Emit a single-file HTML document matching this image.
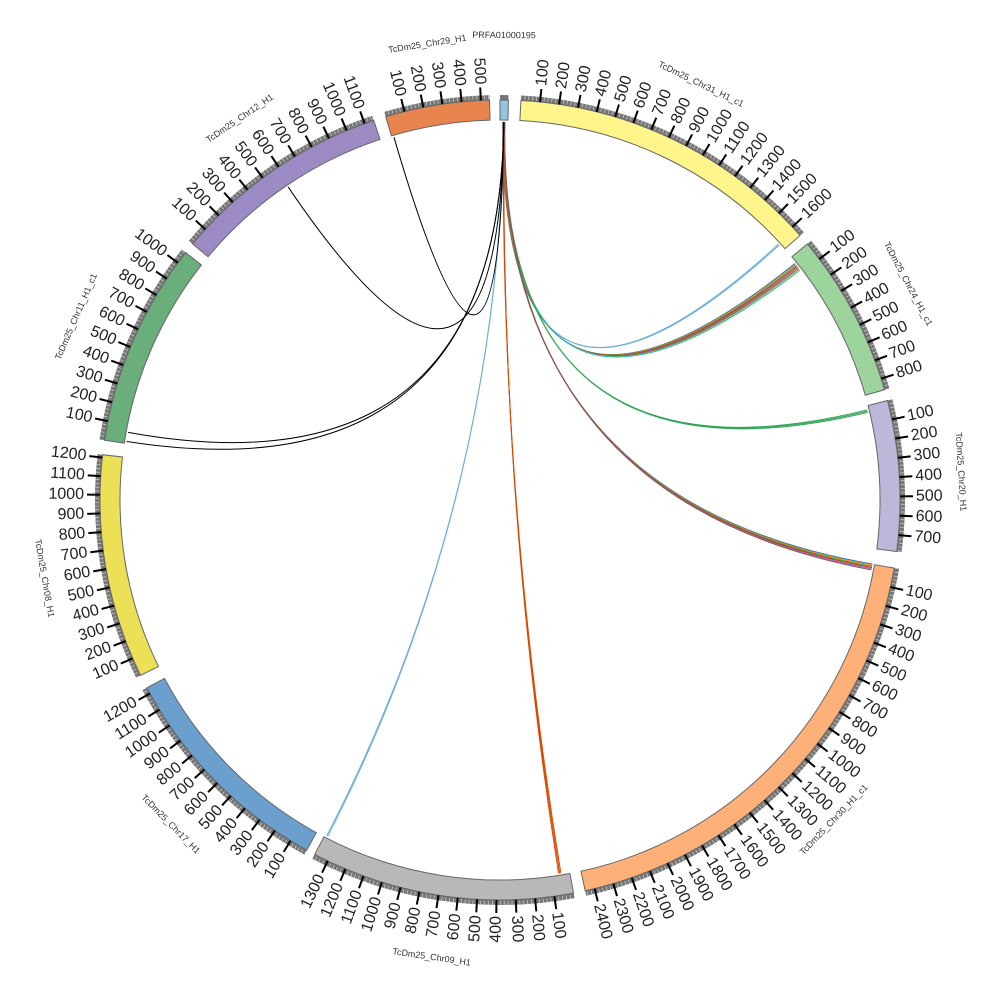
<!DOCTYPE html>
<html><head><meta charset="utf-8"><style>
html,body{margin:0;padding:0;background:#fff;}
svg{display:block;font-family:"Liberation Sans",sans-serif;}
</style></head><body>
<svg id="s" width="1000" height="1000" viewBox="0 0 1000 1000" xmlns="http://www.w3.org/2000/svg"></svg>
<script>
const NS="http://www.w3.org/2000/svg",S=document.getElementById('s');
const cx=500,cy=500,R0=380,R1=400;
function P(a,r){const t=a*Math.PI/180;return [cx+r*Math.sin(t),cy-r*Math.cos(t)];}
function el(n,at,txt){const e=document.createElementNS(NS,n);for(const k in at)e.setAttribute(k,at[k]);if(txt!=null)e.textContent=txt;S.appendChild(e);return e;}
const chrs=[
["PRFA01000195",0,1.2,40,"#93c6e2",0],
["TcDm25_Chr31_H1_c1",3,48.6,1660,"#fff58a",1],
["TcDm25_Chr24_H1_c1",50.2,74,860,"#9dd49e",1],
["TcDm25_Chr20_H1",75.6,97.4,785,"#bcb8da",1],
["TcDm25_Chr30_H1_c1",99.8,167.7,2450,"#fdb178",1],
["TcDm25_Chr09_H1",169.4,207.6,1375,"#b8b8b8",1],
["TcDm25_Chr17_H1",208.9,242,1235,"#6a9fce",1],
["TcDm25_Chr08_H1",244,276.5,1215,"#ece156",1],
["TcDm25_Chr11_H1_c1",278.6,308.2,1066,"#6aae7c",1],
["TcDm25_Chr12_H1",309.8,341.6,1150,"#9c8ac4",1],
["TcDm25_Chr29_H1",343.4,358.5,545,"#e8854f",1]];
function arc(a0,a1,r0,r1,fill,stroke){
 const p=P(a0,r1),q=P(a1,r1),u=P(a1,r0),v=P(a0,r0),L=(a1-a0)>180?1:0;
 el('path',{d:`M${p}A${r1},${r1} 0 ${L} 1 ${q}L${u}A${r0},${r0} 0 ${L} 0 ${v}Z`,fill:fill,stroke:stroke||'none','stroke-width':1});
}
const src=0.6;
const links=[[47.6,"#6baed6",2],[52,"#e6550d",8],[76.5,"#31a354",3],[100.3,"#3182bd",6],[171,"#d94801",3],[207.3,"#6baed6",2],[279,"#000",1],[280.4,"#000",1],[326,"#000",1],[343.8,"#000",1]];
const cols=["#1f77b4","#ff7f0e","#2ca02c","#d62728","#9467bd","#8c564b","#bcbd22","#17becf","#000"];
links.forEach(([a,c,n])=>{
 for(let i=0;i<n;i++){
  const s=src+(i-n/2)*0.05,t=a+(i-n/2)*0.18;
  const p=P(s,R0-2),q=P(t,R0-2);
  const col=n>3?cols[i%cols.length]:c;
  el('path',{d:`M${p}Q${cx},${cy} ${q}`,fill:'none',stroke:col,'stroke-width':1});
 }
});
chrs.forEach(([name,a0,a1,len,col,lab])=>{
 arc(a0,a1,R1,R1+5,'#777');
 arc(a0,a1,R0,R1,col,'#666');
 const k=(a1-a0)/len;
 if(lab){
  for(let v=20;v<len;v+=20){const a=a0+v*k;const [x1,y1]=P(a,R1+1),[x2,y2]=P(a,R1+5);el('line',{x1,y1,x2,y2,stroke:'#ddd','stroke-width':0.6});}
  for(let v=100;v<len;v+=100){
   const a=a0+v*k;const [x1,y1]=P(a,R1),[x2,y2]=P(a,R1+13);
   el('line',{x1,y1,x2,y2,stroke:'#000','stroke-width':2});
   const [tx,ty]=P(a,R1+16);
   if(a<180) el('text',{x:tx,y:ty,'font-size':16,fill:'#222','dominant-baseline':'central',transform:`rotate(${a-90} ${tx} ${ty})`},v);
   else el('text',{x:tx,y:ty,'font-size':16,fill:'#222','text-anchor':'end','dominant-baseline':'central',transform:`rotate(${a+90} ${tx} ${ty})`},v);
  }
 }
 let m=(a0+a1)/2, r=462;
 if(name=="PRFA01000195"){m=0.5;r=465;}
 const [nx,ny]=P(m,r);
 const rot=(m>90&&m<270)?m-180:m;
 el('text',{x:nx,y:ny,'font-size':9,fill:'#333','text-anchor':'middle','dominant-baseline':'central',transform:`rotate(${rot} ${nx} ${ny})`},name);
});
</script>
</body></html>
